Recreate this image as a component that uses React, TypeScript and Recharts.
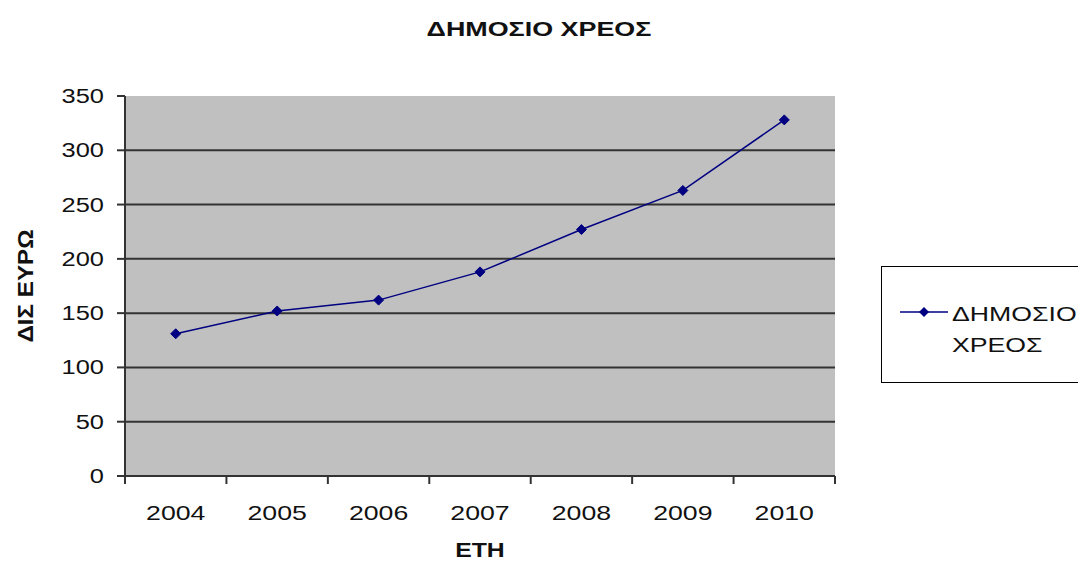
import React from 'react';
import {
  LineChart,
  Line,
  XAxis,
  YAxis,
  CartesianGrid,
} from 'recharts';

const years = ['2004', '2005', '2006', '2007', '2008', '2009', '2010'];
const debtValues = [131, 152, 162, 188, 227, 263, 328];
const yTicks = [0, 50, 100, 150, 200, 250, 300, 350];
const gridValues = [50, 100, 150, 200, 250, 300];
const chartTitle = 'ΔΗΜΟΣΙΟ ΧΡΕΟΣ';
const legendLines = ['ΔΗΜΟΣΙΟ', 'ΧΡΕΟΣ'];
const yLabel = 'ΔΙΣ ΕΥΡΩ';
const xLabel = 'ΕΤΗ';

const data = years.map((y, i) => ({ year: y, debt: debtValues[i] }));

const W = 1078;
const H = 565;
const M = { top: 96, right: 243, bottom: 0, left: 0 };
const Y_AXIS_W = 125;
const X_AXIS_H = 89;
const PLOT_W = W - M.left - M.right - Y_AXIS_W;
const BAND = PLOT_W / years.length;
const FONT = '"Liberation Sans", Arial, sans-serif';
const SX = 1.27;

const stretch = (x: number, s: number) => `translate(${x} 0) scale(${s} 1) translate(${-x} 0)`;

const XTick = (props: any) => {
  const { x, y, payload, index } = props;
  const left = x - BAND / 2;
  const right = x + BAND / 2;
  return (
    <g>
      <line x1={left} y1={y} x2={left} y2={y + 8} stroke="#333" strokeWidth={2} />
      {index === years.length - 1 && (
        <line x1={right} y1={y} x2={right} y2={y + 8} stroke="#333" strokeWidth={2} />
      )}
      <text
        x={x}
        y={y + 44}
        textAnchor="middle"
        fontSize={21}
        fill="#111"
        fontFamily={FONT}
        transform={stretch(x, SX)}
      >
        {payload.value}
      </text>
    </g>
  );
};

const YTick = (props: any) => {
  const { x, y, payload } = props;
  return (
    <text
      x={x}
      y={y + 7}
      textAnchor="end"
      fontSize={20}
      fill="#111"
      fontFamily={FONT}
      transform={stretch(x, SX)}
    >
      {payload.value}
    </text>
  );
};

const Diamond = (props: any) => {
  const { cx, cy } = props;
  if (cx == null || cy == null) return null;
  const s = 5;
  return (
    <polygon
      points={`${cx},${cy - s} ${cx + s},${cy} ${cx},${cy + s} ${cx - s},${cy}`}
      fill="#000080"
      stroke="#000080"
    />
  );
};

const LegendBox = () => (
  <div
    style={{
      position: 'absolute',
      left: 881,
      top: 266,
      width: 220,
      height: 117,
      border: '1px solid #000',
      background: '#fff',
      boxSizing: 'border-box',
      fontFamily: FONT,
      fontSize: 21,
      color: '#111',
    }}
  >
    <svg width={52} height={20} style={{ position: 'absolute', left: 18, top: 35 }}>
      <line x1={0} y1={10} x2={48} y2={10} stroke="#000080" strokeWidth={1.5} />
      <polygon points="24,5 29,10 24,15 19,10" fill="#000080" />
    </svg>
    <div
      style={{
        position: 'absolute',
        left: 70,
        top: 31,
        lineHeight: '31px',
        transform: `scaleX(${SX})`,
        transformOrigin: 'left top',
        whiteSpace: 'nowrap',
      }}
    >
      {legendLines[0]}
      <br />
      {legendLines[1]}
    </div>
  </div>
);

export default function App() {
  return (
    <div style={{ position: 'absolute', left: 0, top: 0, width: W, height: H, background: '#fff' }}>
      <div
        style={{
          position: 'absolute',
          left: 0,
          top: 17,
          width: W,
          textAlign: 'center',
          fontFamily: FONT,
          fontWeight: 'bold',
          fontSize: 21,
          color: '#111',
          transform: 'scaleX(1.28)',
          transformOrigin: '539px 0',
        }}
      >
        {chartTitle}
      </div>
      <LineChart width={W} height={H} data={data} margin={M}>
        <CartesianGrid
          vertical={false}
          horizontalValues={gridValues}
          stroke="#333"
          strokeWidth={2}
          fill="#c0c0c0"
          fillOpacity={1}
        />
        <XAxis
          dataKey="year"
          scale="band"
          type="category"
          height={X_AXIS_H}
          tickLine={false}
          tickSize={0}
          tickMargin={0}
          axisLine={{ stroke: '#333', strokeWidth: 2 }}
          tick={<XTick />}
          interval={0}
          label={{
            content: (p: any) => {
              const vb = p.viewBox || {};
              const cx = vb.x + vb.width / 2;
              const by = vb.y + vb.height - 8;
              return (
                <text
                  x={cx}
                  y={by}
                  textAnchor="middle"
                  fontSize={21}
                  fontWeight="bold"
                  fill="#111"
                  fontFamily={FONT}
                  transform={stretch(cx, 1.18)}
                >
                  {xLabel}
                </text>
              );
            },
          }}
        />
        <XAxis
          xAxisId="top"
          dataKey="year"
          orientation="top"
          scale="band"
          height={0}
          tick={false}
          tickLine={false}
          axisLine={{ stroke: '#808080', strokeWidth: 1.5 }}
        />
        <YAxis
          domain={[0, 350]}
          ticks={yTicks}
          width={Y_AXIS_W}
          interval={0}
          tickSize={8}
          tickMargin={13}
          tickLine={{ stroke: '#333', strokeWidth: 2 }}
          axisLine={{ stroke: '#333', strokeWidth: 2 }}
          tick={<YTick />}
          label={{
            content: (p: any) => {
              const vb = p.viewBox || {};
              const bx = 33;
              const cy = vb.y + vb.height / 2;
              return (
                <text
                  x={bx}
                  y={cy}
                  transform={`rotate(-90 ${bx} ${cy}) ${stretch(bx, 1.1)}`}
                  textAnchor="middle"
                  fontSize={22}
                  fontWeight="bold"
                  fill="#111"
                  fontFamily={FONT}
                >
                  {yLabel}
                </text>
              );
            },
          }}
        />
        <YAxis
          yAxisId="right"
          orientation="right"
          width={0}
          domain={[0, 350]}
          tick={false}
          tickLine={false}
          axisLine={{ stroke: '#808080', strokeWidth: 1.5 }}
        />
        <Line
          type="linear"
          dataKey="debt"
          stroke="#000080"
          strokeWidth={1.5}
          dot={<Diamond />}
          activeDot={false}
          isAnimationActive={false}
        />
      </LineChart>
      <LegendBox />
    </div>
  );
}
